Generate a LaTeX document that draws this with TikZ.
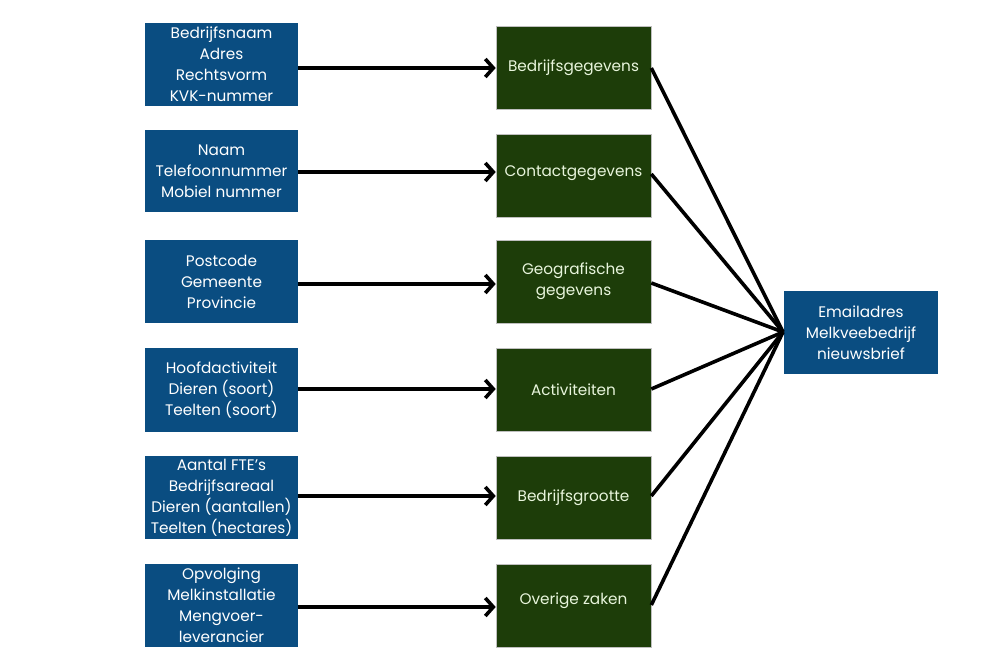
\documentclass[tikz,border=0pt]{standalone}
\usepackage{fontspec}
\setmainfont{Poppins}
\usetikzlibrary{arrows.meta}
\definecolor{boxblue}{RGB}{10,77,129}
\definecolor{boxgreen}{RGB}{29,61,9}
\definecolor{greentext}{RGB}{232,245,220}
\tikzset{
  srcbox/.style={fill=boxblue, text=white, minimum width=153pt, inner sep=0pt, align=center,
     font=\fontsize{15.3pt}{21pt}\selectfont},
  catbox/.style={fill=boxgreen, draw=gray!50, line width=0.6pt, text=greentext, minimum width=155pt, minimum height=83pt,
     inner sep=0pt, align=center, font=\fontsize{15.3pt}{21pt}\selectfont},
  goalbox/.style={fill=boxblue, text=white, minimum width=154pt, minimum height=83pt, inner sep=0pt, align=center,
     font=\fontsize{15.3pt}{21pt}\selectfont},
  feed/.style={line width=3.6pt, -{Straight Barb[length=8pt,width=18pt,line width=3.6pt]}},
  joinline/.style={line width=3.6pt}
}
\begin{document}
\begin{tikzpicture}[x=1pt,y=-1pt]
\useasboundingbox (0,0) rectangle (1000,666);
% source boxes
\node[srcbox, minimum height=83pt] (s1) at (221.5,64.5) {Bedrijfsnaam\\Adres\\Rechtsvorm\\KVK-nummer};
\node[srcbox, minimum height=82pt] (s2) at (221.5,171) {Naam\\Telefoonnummer\\Mobiel nummer};
\node[srcbox, minimum height=83pt] (s3) at (221.5,281.5) {Postcode\\Gemeente\\Provincie};
\node[srcbox, minimum height=84pt] (s4) at (221.5,390) {Hoofdactiviteit\\Dieren (soort)\\Teelten (soort)};
\node[srcbox, minimum height=83pt] (s5) at (221.5,497.5) {Aantal FTE{\char"0027}s\\Bedrijfsareaal\\Dieren (aantallen)\\Teelten (hectares)};
\node[srcbox, minimum height=83pt] (s6) at (221.5,605.5) {Opvolging\\Melkinstallatie\\Mengvoer-\\leverancier};
% category boxes
\node[catbox] (c1) at (573.5,68) {Bedrijfsgegevens};
\node[catbox, text depth=8pt] (c2) at (573.5,175.5) {Contactgegevens};
\node[catbox] (c3) at (573.5,281.5) {Geografische\\gegevens};
\node[catbox] (c4) at (573.5,389.5) {Activiteiten};
\node[catbox] (c5) at (573.5,497.5) {Bedrijfsgrootte};
\node[catbox, text depth=13pt] (c6) at (573.5,605.5) {Overige zaken};
% goal
\node[goalbox] (g) at (861,332.5) {Emailadres\\Melkveebedrijf\\nieuwsbrief};
\coordinate (hub) at (783,332);
% arrows
\draw[feed] (s1.east |- 0,68) -- (c1.west |- 0,68);
\draw[feed] (s2.east |- 0,172) -- (c2.west |- 0,172);
\draw[feed] (s3.east |- 0,284) -- (c3.west |- 0,284);
\draw[feed] (s4.east |- 0,389) -- (c4.west |- 0,389);
\draw[feed] (s5.east |- 0,496) -- (c5.west |- 0,496);
\draw[feed] (s6.east |- 0,607) -- (c6.west |- 0,607);
% joins
\draw[joinline] (c1.east |- 0,68) -- (hub);
\draw[joinline] (c2.east |- 0,174) -- (hub);
\draw[joinline] (c3.east |- 0,283) -- (hub);
\draw[joinline] (c4.east |- 0,389) -- (hub);
\draw[joinline] (c5.east |- 0,496) -- (hub);
\draw[joinline] (c6.east |- 0,605) -- (hub);
\end{tikzpicture}
\end{document}
